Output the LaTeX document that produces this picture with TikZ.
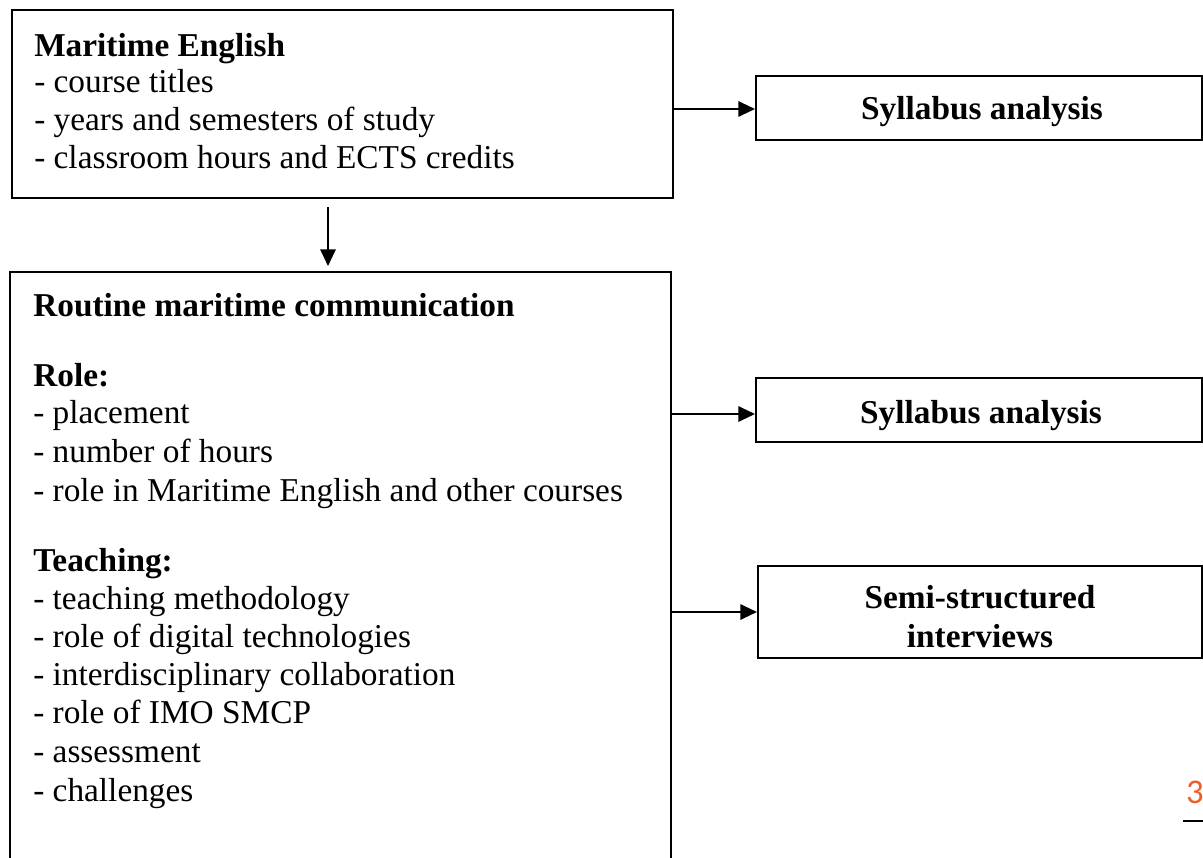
\documentclass[tikz,border=0pt]{standalone}
\usepackage{fontspec}
\setmainfont{Liberation Serif}
\newfontfamily\numfont{Carlito}
\usetikzlibrary{arrows.meta,fit}
\definecolor{pgorange}{RGB}{240,92,40}
\tikzset{
  box/.style={draw=black, line width=1.5pt, inner sep=0pt},
  arr/.style={draw=black, line width=1.5pt, -{Triangle[length=12.5pt,width=11.5pt]}},
  txt/.style={anchor=base west, inner sep=0pt, font=\fontsize{25pt}{30pt}\selectfont},
  btxt/.style={txt, font=\fontsize{25pt}{30pt}\selectfont\bfseries},
  ctxt/.style={anchor=base, inner sep=0pt, font=\fontsize{25pt}{30pt}\selectfont\bfseries},
}
\begin{document}
\begin{tikzpicture}[x=0.75pt,y=-0.75pt]
\useasboundingbox (0,0) rectangle (1203,857);
\clip (0,0) rectangle (1203,857);
% boxes
\node[box, fit={(12,10) (673,198)}] (b1) {};
\node[box, fit={(10,272) (671,900)}] (b2) {};
\node[box, fit={(756,76) (1202,140)}] (sa) {};
\node[box, fit={(756,378) (1202,442)}] (sb) {};
\node[box, fit={(758,566) (1202,658)}] (sc) {};
% box 1 text
\node[btxt] (t11) at (34,56) {Maritime English};
\node[txt] (t12) at (34,92) {- course titles};
\node[txt] (t13) at (34,130) {- years and semesters of study};
\node[txt] (t14) at (34,168) {- classroom hours and ECTS credits};
% box 2 text
\node[btxt] (t21) at (33,316) {Routine maritime communication};
\node[btxt] (t22) at (33,386) {Role:};
\node[txt] (t23) at (33,423) {- placement};
\node[txt] (t24) at (33,462) {- number of hours};
\node[txt] (t25) at (33,501) {- role in Maritime English and other courses};
\node[btxt] (t26) at (33,571) {Teaching:};
\node[txt] (t27) at (33,609) {- teaching methodology};
\node[txt] (t28) at (33,647) {- role of digital technologies};
\node[txt] (t29) at (33,685) {- interdisciplinary collaboration};
\node[txt] (t30) at (33,723) {- role of IMO SMCP};
\node[txt] (t31) at (33,762) {- assessment};
\node[txt] (t32) at (33,801) {- challenges};
% right texts
\node[ctxt] (ra) at (982,119) {Syllabus analysis};
\node[ctxt] (rb) at (981,423) {Syllabus analysis};
\node[ctxt] (rc1) at (980,608) {Semi-structured};
\node[ctxt] (rc2) at (980,647) {interviews};
% arrows
\coordinate (d1) at (328,207);
\coordinate (d2) at (328,266);
\draw[arr] (d1) -- (d2);
\draw[arr] (b1.east |- 0,109) -- (sa.west |- 0,109);
\draw[arr] (b2.east |- 0,414) -- (sb.west |- 0,414);
\draw[arr] (b2.east |- sc.west) -- (sc.west);
% page number
\node[anchor=base, inner sep=0pt, text=pgorange, font=\numfont\fontsize{26pt}{30pt}\selectfont] (pn) at (1195,803) {3};
\coordinate (l1) at (1183,821);
\coordinate (l2) at (1203,821);
\draw[line width=1.5pt] (l1) -- (l2);
\end{tikzpicture}
\end{document}
